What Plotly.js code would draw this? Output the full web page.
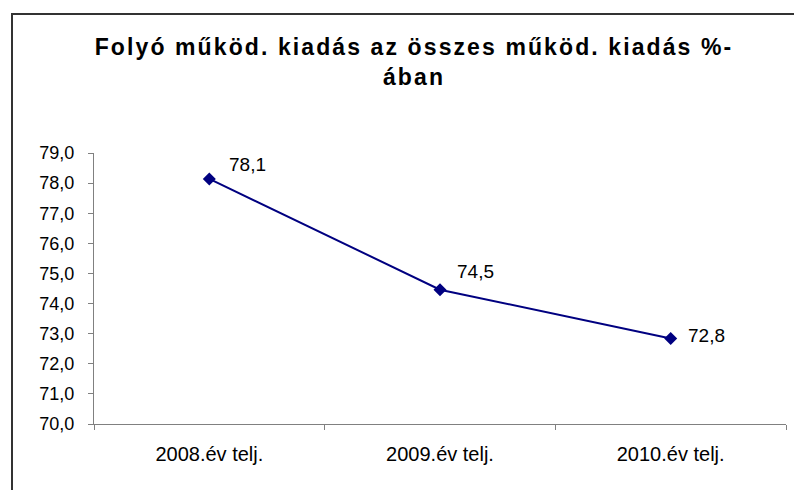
<!DOCTYPE html>
<html>
<head>
<meta charset="utf-8">
<script src="https://cdn.plot.ly/plotly-3.0.1.min.js"></script>
<style>
  html, body { margin: 0; padding: 0; background: #ffffff; }
  #wrap { position: relative; width: 794px; height: 490px; overflow: hidden; }
  #chart { position: absolute; left: 0; top: 0; width: 794px; height: 490px; z-index: 1; }
  .fl { position: absolute; background: #333333; z-index: 5; pointer-events: none; }
  .gtitle { letter-spacing: 2.1px; }
</style>
</head>
<body>
<div id="wrap">
  <div id="chart"></div>
  <div class="fl" style="left:11px; top:13px; width:2px; height:477px;"></div>
  <div class="fl" style="left:11px; top:13px; width:783px; height:2px;"></div>
</div>
<script>
// ---- data ----
const categories = ["2008.év telj.", "2009.év telj.", "2010.év telj."];
const values = [78.14, 74.46, 72.84];
const titleText = "Folyó működ. kiadás az összes működ. kiadás %-<br>ában";
const yTickVals = [70, 71, 72, 73, 74, 75, 76, 77, 78, 79];

// ---- style (label offsets in px) ----
const labelXShift = [18, 15, 15];
const labelYShift = [14, 18, 3];

const FONT = '"Liberation Sans", Arial, Helvetica, sans-serif';
const NAVY = '#000080';
const AXIS = '#808080';

function fmt(v) { return v.toFixed(1).replace('.', ','); }

const trace = {
  type: 'scatter', mode: 'lines+markers', x: categories, y: values,
  line: { color: NAVY, width: 2 },
  marker: { symbol: 'diamond', size: 10, color: NAVY },
  hoverinfo: 'skip', cliponaxis: false
};

const annotations = categories.map((c, i) => ({
  x: c, y: values[i], xref: 'x', yref: 'y', text: fmt(values[i]),
  showarrow: false, xanchor: 'left', yanchor: 'middle',
  xshift: labelXShift[i], yshift: labelYShift[i],
  font: { family: FONT, size: 19, color: '#000000' }
}));

const layout = {
  width: 794, height: 490,
  margin: { l: 93.5, r: 8, t: 153, b: 66, pad: 0 },
  paper_bgcolor: 'rgba(255,255,255,0)', plot_bgcolor: 'rgba(255,255,255,0)',
  separators: ', ', showlegend: false, hovermode: false,
  font: { family: FONT, color: '#000000' },
  title: {
    text: titleText, x: 414 / 794, xref: 'container', xanchor: 'center',
    y: 1 - 55 / 490, yref: 'container', yanchor: 'top',
    font: { family: FONT, size: 23, weight: 'bold', color: '#000000' }
  },
  xaxis: {
    type: 'category', range: [-0.5, 2.5], showline: true, linecolor: AXIS, linewidth: 1,
    ticks: 'outside', tickson: 'boundaries', ticklen: 5, tickcolor: AXIS, tickwidth: 1,
    showgrid: false, zeroline: false, ticklabelstandoff: 12,
    tickfont: { family: FONT, size: 20, color: '#000000' }, fixedrange: true
  },
  yaxis: {
    range: [70, 79], tickmode: 'array', tickvals: yTickVals, tickformat: '.1f',
    showline: true, linecolor: AXIS, linewidth: 1, ticks: 'outside', ticklen: 5,
    tickcolor: AXIS, tickwidth: 1, showgrid: false, zeroline: false, ticklabelstandoff: 10,
    tickfont: { family: FONT, size: 18, color: '#000000' }, fixedrange: true
  },
  annotations: annotations
};

Plotly.newPlot('chart', [trace], layout, { displayModeBar: false, staticPlot: true });
</script>
</body>
</html>
